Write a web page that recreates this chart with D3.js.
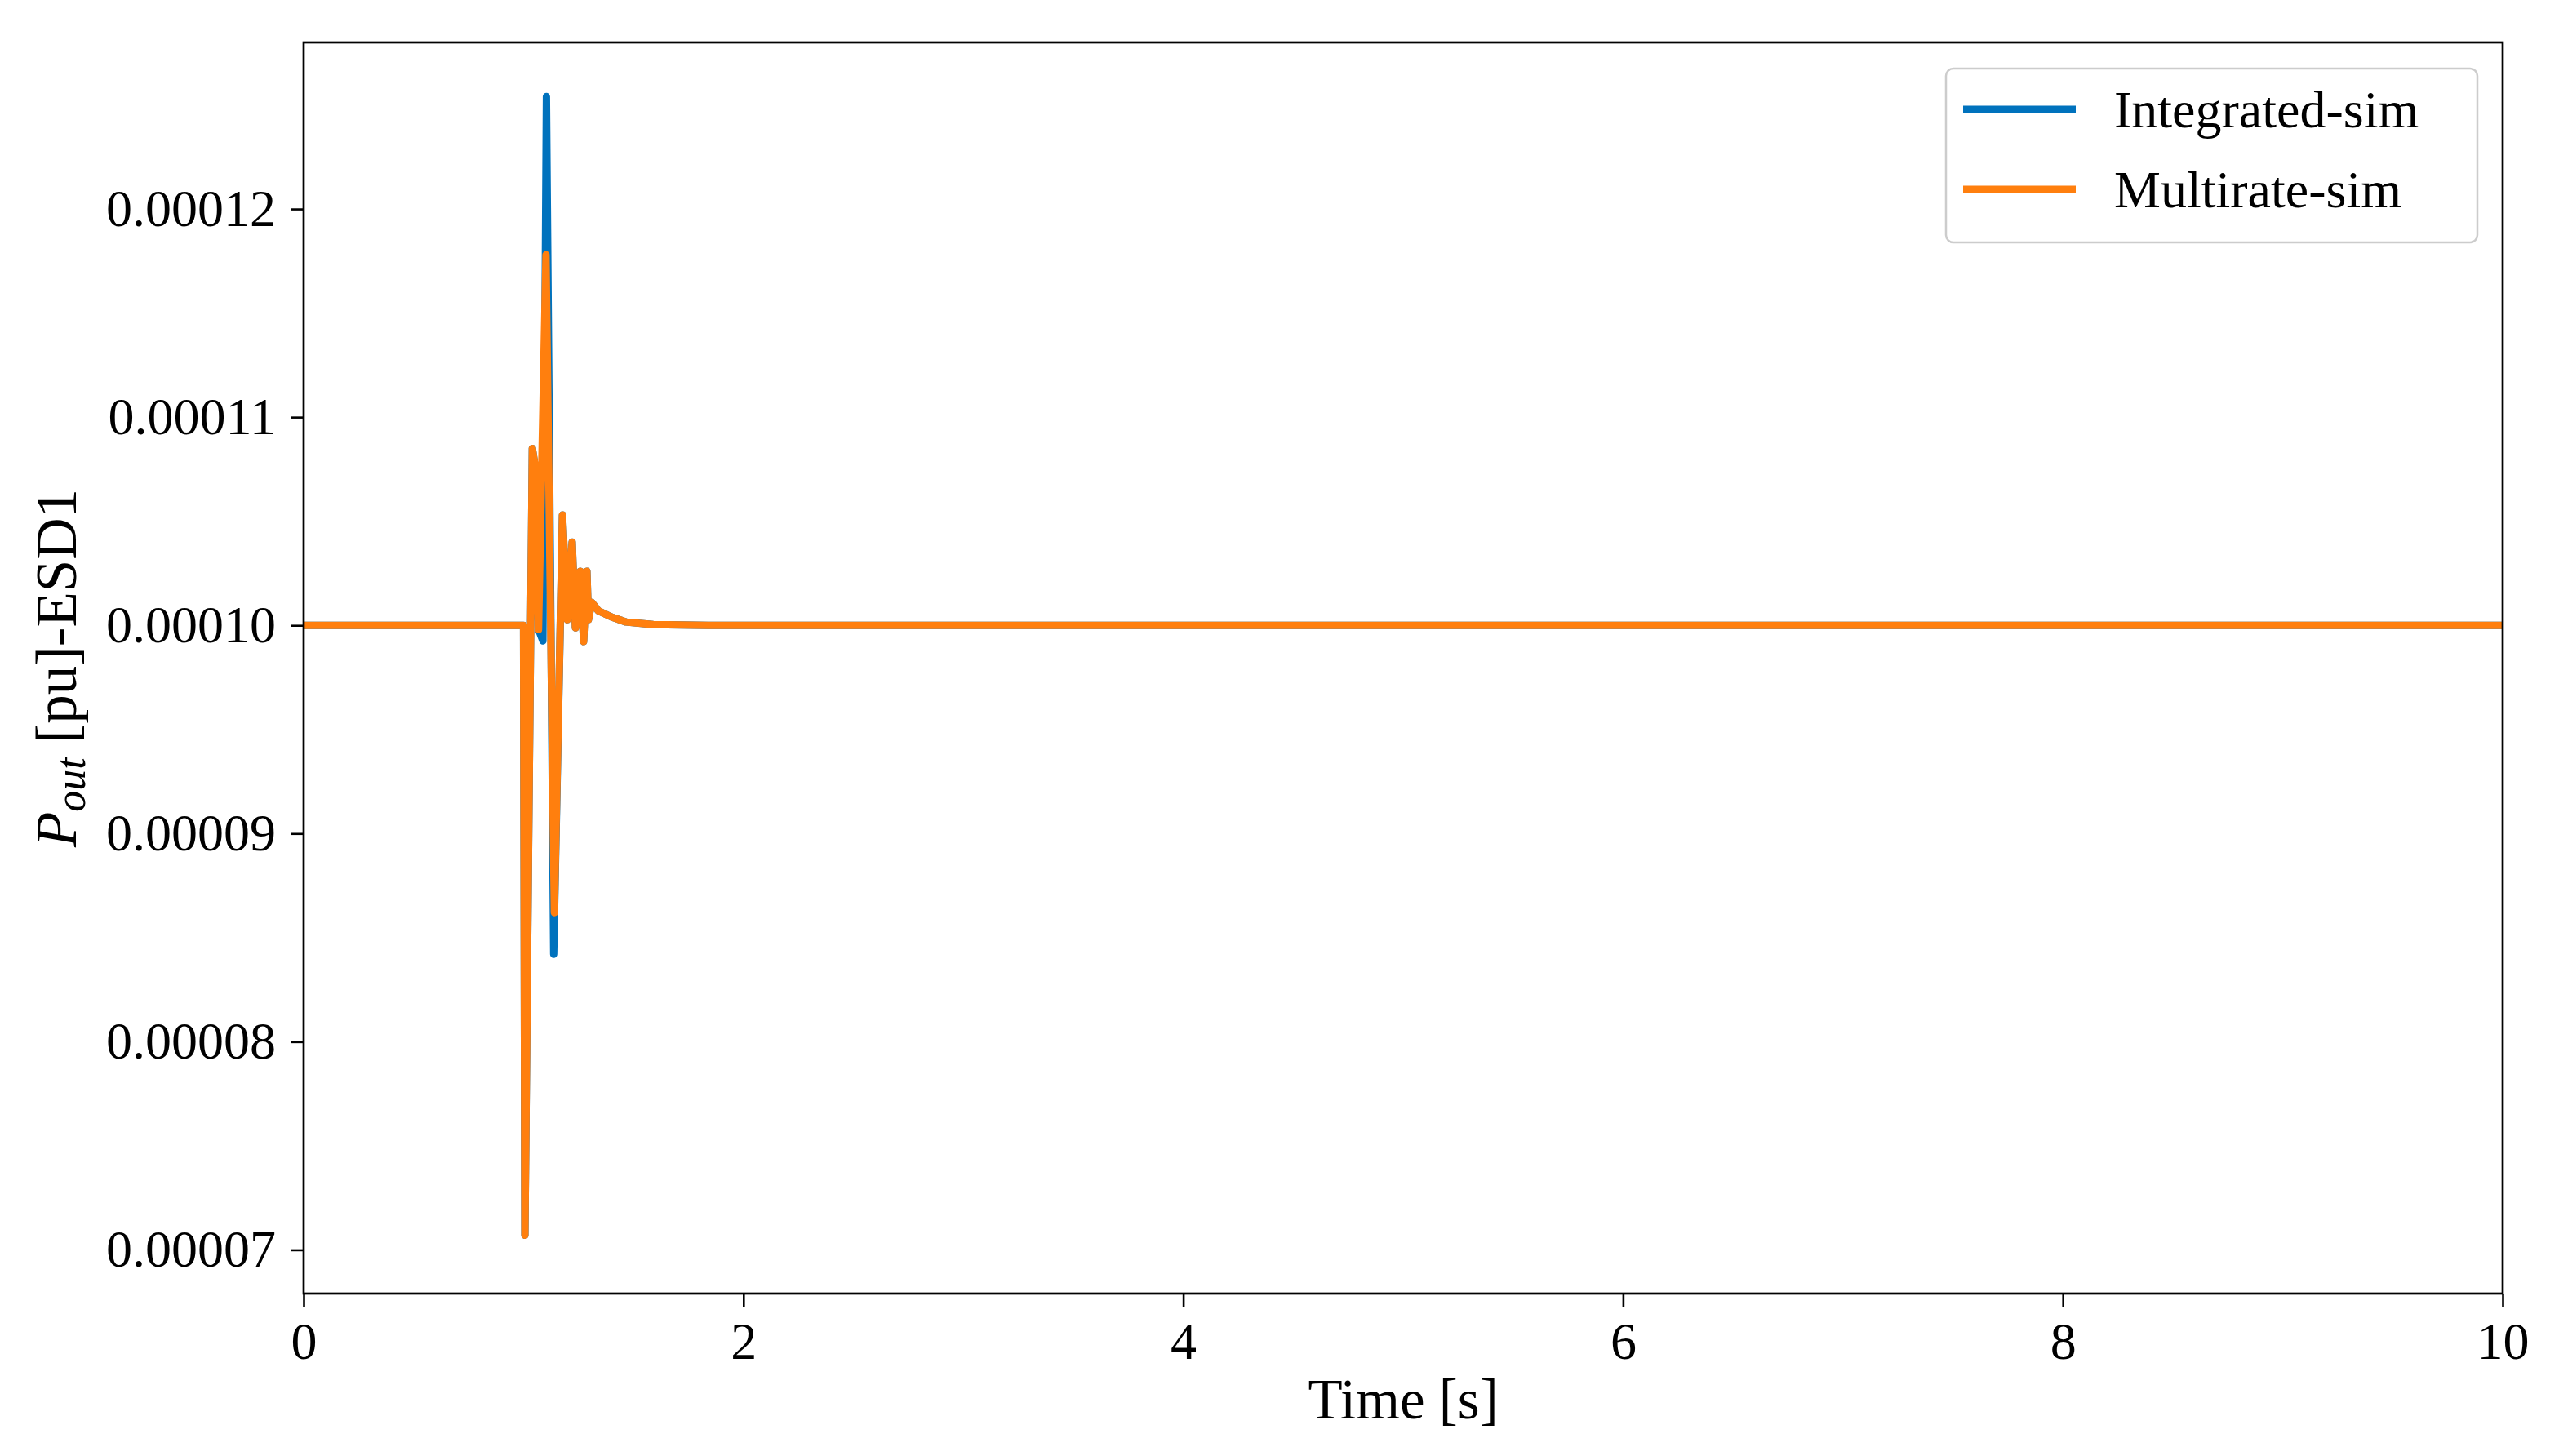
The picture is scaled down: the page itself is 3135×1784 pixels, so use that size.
<!DOCTYPE html>
<html>
<head>
<meta charset="utf-8">
<script src="https://cdn.jsdelivr.net/npm/d3@7"></script>
<style>
  html, body { margin: 0; padding: 0; background: #fff; }
  svg { display: block; }
  text { font-family: "Liberation Serif", "Times New Roman", serif; fill: #000; }
</style>
</head>
<body>
<svg id="chart" width="3135" height="1784"></svg>
<script>
// ---- Data ----
const seriesNames = ["Integrated-sim", "Multirate-sim"];
const seriesColors = ["#0072bd", "#ff7f0e"];

// Integrated-sim
const integratedTime = [0, 1.0, 1.006, 1.040, 1.050, 1.068, 1.088, 1.104, 1.137, 1.177, 1.199, 1.221, 1.236, 1.258, 1.273, 1.288, 1.295, 1.310, 1.340, 1.400, 1.466, 1.590, 1.840, 10];
const integratedValue = [1.0e-4, 1.0e-4, 7.07e-5, 1.085e-4, 1.078e-4, 0.998e-4, 0.9925e-4, 1.254e-4, 0.842e-4, 1.053e-4, 1.0027e-4, 1.040e-4, 0.9988e-4, 1.026e-4, 0.9922e-4, 1.026e-4, 1.0027e-4, 1.011e-4, 1.007e-4, 1.004e-4, 1.0016e-4, 1.0004e-4, 1.0e-4, 1.0e-4];

// Multirate-sim
const multirateTime = [0, 1.0, 1.006, 1.040, 1.050, 1.068, 1.102, 1.140, 1.177, 1.199, 1.221, 1.236, 1.258, 1.273, 1.288, 1.295, 1.310, 1.340, 1.400, 1.466, 1.590, 1.840, 10];
const multirateValue = [1.0e-4, 1.0e-4, 7.07e-5, 1.085e-4, 1.078e-4, 0.998e-4, 1.178e-4, 0.862e-4, 1.053e-4, 1.0027e-4, 1.040e-4, 0.9988e-4, 1.026e-4, 0.9922e-4, 1.026e-4, 1.0027e-4, 1.011e-4, 1.007e-4, 1.004e-4, 1.0016e-4, 1.0004e-4, 1.0e-4, 1.0e-4];

const xTicks = [0, 2, 4, 6, 8, 10];
const yTicks = [7e-5, 8e-5, 9e-5, 1.0e-4, 1.1e-4, 1.2e-4];
const xLabel = "Time [s]";

// ---- Layout ----
const svg = d3.select("#chart");
const plot = { left: 372, right: 3066, top: 52, bottom: 1585 };

const x = d3.scaleLinear().domain([0, 10]).range([plot.left, plot.right]);
const y = d3.scaleLinear().domain([6.79e-5, 1.280e-4]).range([plot.bottom, plot.top]);

// Axes
const xAxis = svg.append("g")
  .attr("transform", `translate(0,${plot.bottom})`)
  .call(d3.axisBottom(x).tickValues(xTicks).tickFormat(d3.format("d")).tickSize(17).tickSizeOuter(0).tickPadding(18));
const yAxis = svg.append("g")
  .attr("transform", `translate(${plot.left},0)`)
  .call(d3.axisLeft(y).tickValues(yTicks).tickFormat(d3.format(".5f")).tickSize(16).tickSizeOuter(0).tickPadding(18));

[xAxis, yAxis].forEach(g => {
  g.select(".domain").remove();
  g.selectAll(".tick line").attr("stroke", "#000").attr("stroke-width", 2.6);
  g.selectAll(".tick text").attr("font-family", "Liberation Serif").attr("font-size", 64).attr("fill", "#000");
});

// Lines
const seriesData = [
  integratedTime.map((t, i) => [t, integratedValue[i]]),
  multirateTime.map((t, i) => [t, multirateValue[i]])
];
const line = d3.line().x(d => x(d[0])).y(d => y(d[1]));
svg.append("defs").append("clipPath").attr("id", "clip")
  .append("rect").attr("x", plot.left).attr("y", plot.top)
  .attr("width", plot.right - plot.left).attr("height", plot.bottom - plot.top);
const lines = svg.append("g").attr("clip-path", "url(#clip)");
seriesData.forEach((d, i) => {
  lines.append("path").datum(d)
    .attr("d", line)
    .attr("fill", "none")
    .attr("stroke", seriesColors[i])
    .attr("stroke-width", 9)
    .attr("stroke-linejoin", "round")
    .attr("stroke-linecap", "round");
});

// Frame (spines)
svg.append("rect")
  .attr("x", plot.left).attr("y", plot.top)
  .attr("width", plot.right - plot.left).attr("height", plot.bottom - plot.top)
  .attr("fill", "none").attr("stroke", "#000").attr("stroke-width", 2.7);

// Axis labels
svg.append("text")
  .attr("x", (plot.left + plot.right) / 2).attr("y", 1738)
  .attr("text-anchor", "middle").attr("font-size", 69)
  .text(xLabel);

const yl = svg.append("text")
  .attr("transform", `translate(93,${(plot.top + plot.bottom) / 2}) rotate(-90)`)
  .attr("text-anchor", "middle").attr("font-size", 71);
yl.append("tspan").attr("font-style", "italic").text("P");
yl.append("tspan").attr("font-style", "italic").attr("font-size", 52).attr("baseline-shift", "-22%").text("out");
yl.append("tspan").text(" [pu]-ESD1");

// Legend
const lg = svg.append("g");
lg.append("rect")
  .attr("x", 2384).attr("y", 84).attr("width", 651).attr("height", 213).attr("rx", 9)
  .attr("fill", "#fff").attr("fill-opacity", 0.8)
  .attr("stroke", "#cccccc").attr("stroke-width", 2.5);
seriesNames.forEach((name, i) => {
  const cy = 134 + i * 98;
  lg.append("line")
    .attr("x1", 2405).attr("x2", 2543).attr("y1", cy).attr("y2", cy)
    .attr("stroke", seriesColors[i]).attr("stroke-width", 9);
  lg.append("text")
    .attr("x", 2590).attr("y", cy + 22)
    .attr("font-size", 64)
    .text(name);
});
</script>
</body>
</html>
